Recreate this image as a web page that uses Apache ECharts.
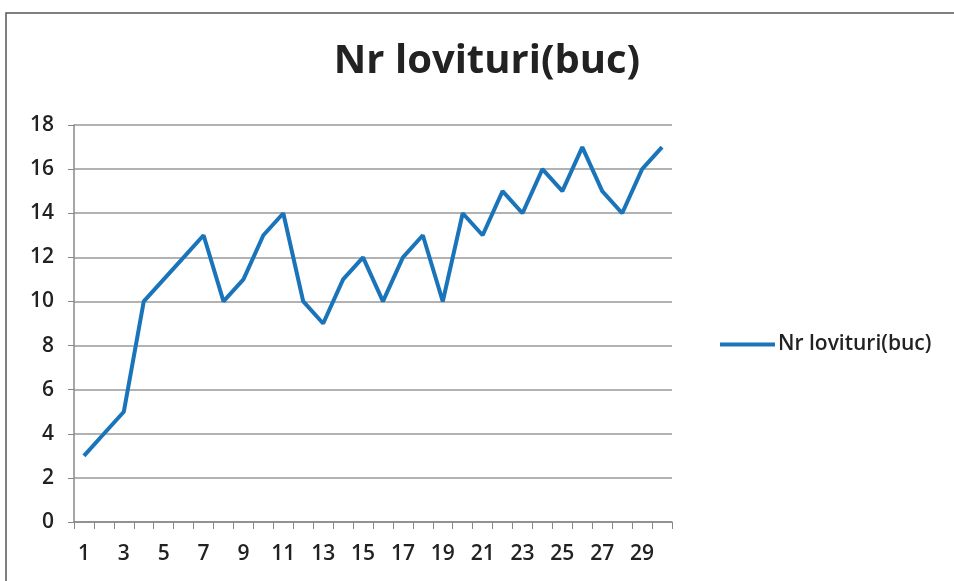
<!DOCTYPE html>
<html><head><meta charset="utf-8">
<script src="https://cdn.jsdelivr.net/npm/echarts@6/dist/echarts.min.js"></script>
<style>html,body{margin:0;padding:0;background:#fff}#c{width:954px;height:581px}</style>
</head><body><div id="c"></div>
<script>
var categories = ['1','2','3','4','5','6','7','8','9','10','11','12','13','14','15','16','17','18','19','20','21','22','23','24','25','26','27','28','29','30'];
var values = [3,4,5,10,11,12,13,10,11,13,14,10,9,11,12,10,12,13,10,14,13,15,14,16,15,17,15,14,16,17];
var seriesName = 'Nr lovituri(buc)';
var titleText = 'Nr lovituri(buc)';
var FONT = '"Open Sans", Lato, sans-serif';
var chart = echarts.init(document.getElementById('c'));
chart.setOption({
  animation: false,
  backgroundColor: '#fff',
  graphic: [{type:'polyline', shape:{points:[[6,581],[6,13],[954,13]]}, style:{stroke:'#555', lineWidth:1.5, fill:null}}],
  title: {text: titleText, left: 482, top: 37, textAlign: 'center',
    textStyle: {fontFamily: FONT, fontWeight: 'bold', fontSize: 40, color: '#222'}},
  legend: {data:[seriesName], left: 715, top: 329, itemWidth: 55, itemHeight: 4, itemGap: 4,
    icon: 'rect',
    textStyle: {fontFamily: FONT, fontSize: 21, fontWeight: 600, color: '#222', padding:[0,0,0,-2]}},
  grid: {left: 74, right: 282, top: 125, bottom: 59},
  xAxis: {type: 'category', data: categories, boundaryGap: true,
    axisLine: {lineStyle: {color: '#888', width: 1.5}},
    axisTick: {show: true, alignWithLabel: false, interval: 0, length: 7, lineStyle:{color:'#888'}},
    axisLabel: {interval: 1, fontFamily: FONT, fontSize: 21, fontWeight: 600, color: '#222', margin: 22}},
  yAxis: {type: 'value', min: 0, max: 18, interval: 2,
    axisLine: {show: true, lineStyle: {color: '#888', width: 1.5}},
    axisTick: {show: true, length: 6, inside: false, lineStyle:{color:'#888'}},
    axisLabel: {fontFamily: FONT, fontSize: 21, fontWeight: 600, color: '#222', margin: 20},
    splitLine: {lineStyle: {color: '#999', width: 1.5}}},
  series: [{name: seriesName, type: 'line', data: values, symbol: 'none',
    lineStyle: {color: '#1a74ba', width: 4}, itemStyle: {color: '#1a74ba'}}]
});
</script></body></html>
